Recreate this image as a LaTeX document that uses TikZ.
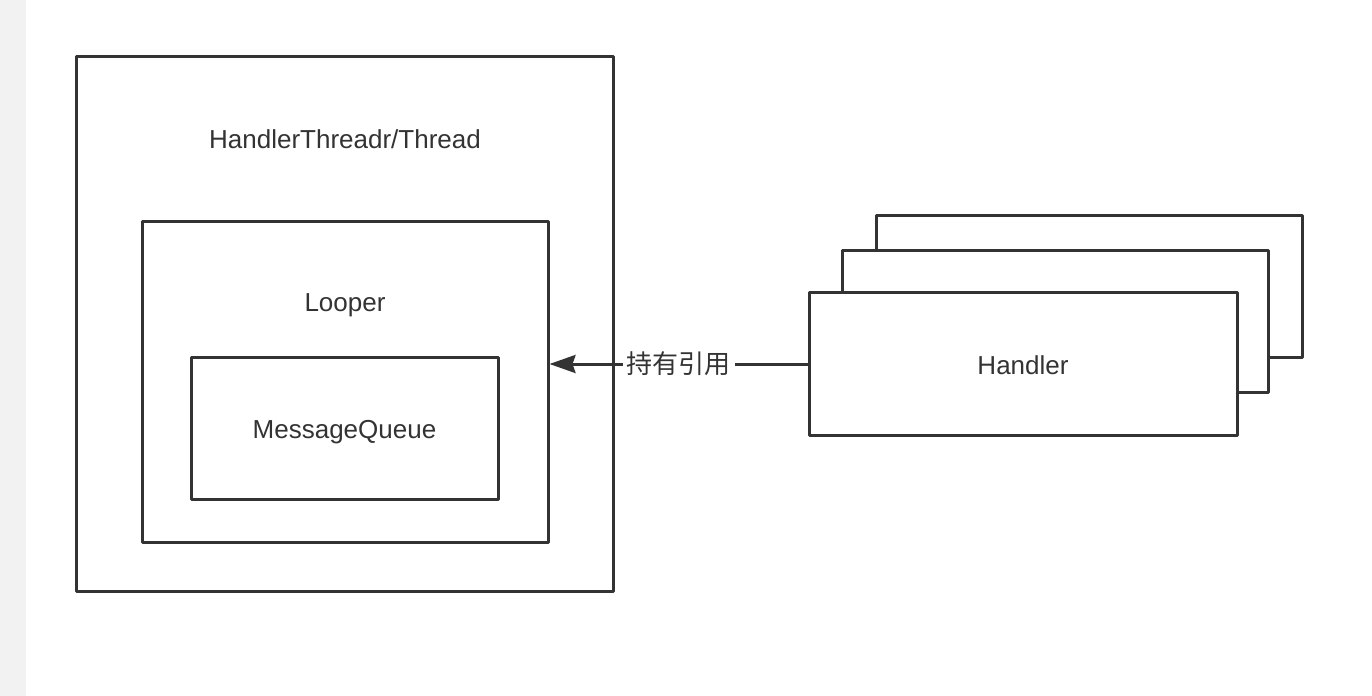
\documentclass[tikz,border=0pt]{standalone}
\usepackage{fontspec}
\setmainfont{Liberation Sans}
\newfontfamily\cjk{Noto Sans CJK SC}
\usetikzlibrary{arrows.meta}
\definecolor{linegray}{HTML}{333333}
\definecolor{stripgray}{HTML}{F2F2F2}
\begin{document}
\begin{tikzpicture}[x=0.5pt, y=-0.5pt, font=\fontsize{13pt}{15pt}\selectfont, line join=round,
	box/.style={draw=linegray, line width=1.5pt, fill=white, inner sep=0pt},
	lbl/.style={text=linegray, inner sep=1pt},
	>={Stealth[length=13pt, width=9pt, inset=1.5pt]}]
	\useasboundingbox (0,0) rectangle (1372,696);
	\fill[stripgray] (0,0) rectangle (26,696);
	
	% Thread side
	\node[box, minimum width=268.5pt, minimum height=267.5pt] (thread) at (344.5,323.5) {};
	\node[lbl] (threadname) at (345,139) {HandlerThreadr/Thread};
	\node[box, minimum width=203pt, minimum height=160.5pt] (looper) at (345,381.5) {};
	\node[lbl] (loopername) at (345,305) {Looper};
	\node[box, minimum width=153.5pt, minimum height=71pt] (queue) at (344.5,428) {};
	\node[lbl] (queuename) at (344.5,432) {MessageQueue};
	
	% Handler stack
	\node[box, minimum width=213pt, minimum height=71pt] (handlerc) at (1089,286) {};
	\node[box, minimum width=213pt, minimum height=71pt] (handlerb) at (1055,321) {};
	\node[box, minimum width=214pt, minimum height=71.5pt] (handler) at (1023,364) {};
	\node[lbl] (handlername) at (1023,365) {Handler};
	
	\draw[->, draw=linegray, fill=linegray, line width=1.5pt] (handler.west) -- (handler.west -| looper.east)
		node[midway, fill=white, text=linegray, inner sep=2pt] (ref) {\cjk 持有引用};
\end{tikzpicture}
\end{document}
